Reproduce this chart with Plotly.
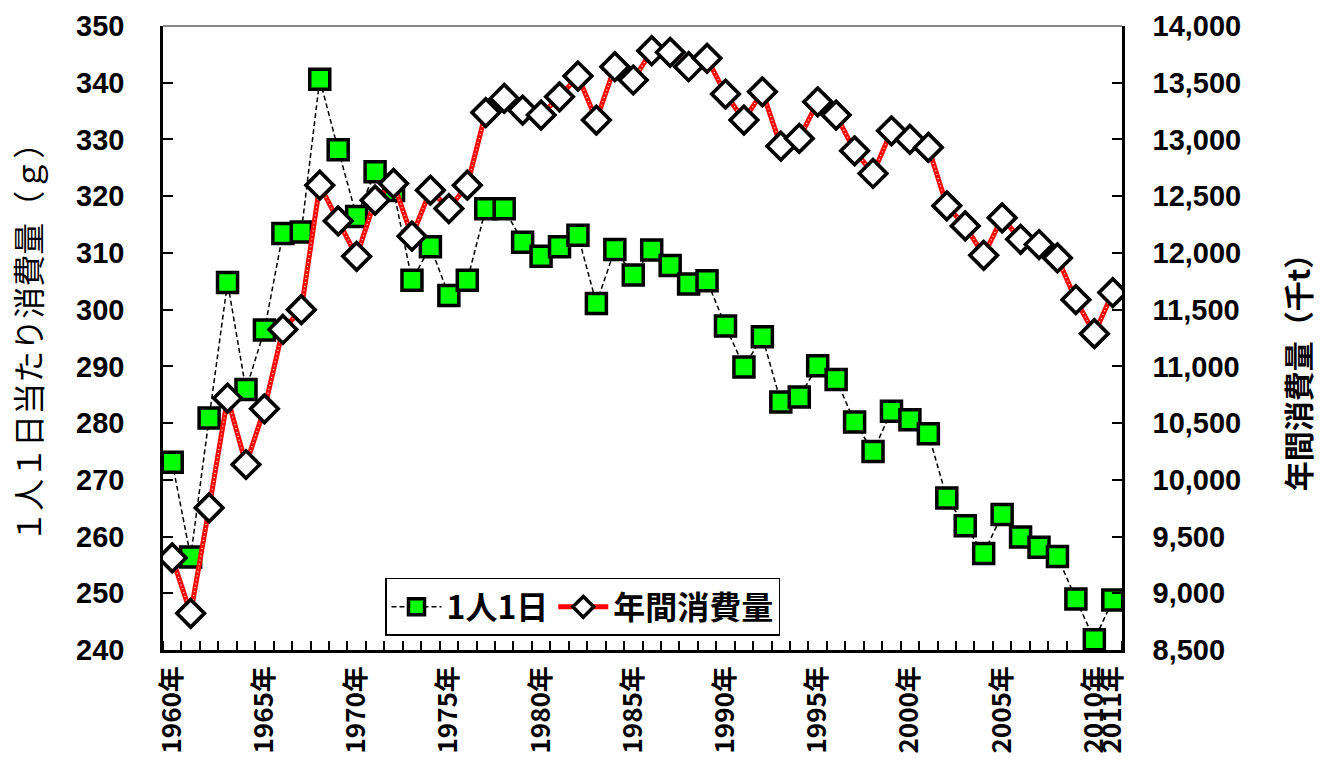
import plotly.graph_objects as go

# 年次データ (1960-2011)
years = list(range(1960, 2012))

# 1人1日当たり消費量 (g)
per_day_g = [
    273.1, 256.4, 280.9, 304.8, 285.9, 296.4, 313.4, 313.7, 340.6, 328.2,
    316.4, 324.3, 321.0, 305.2, 311.1, 302.5, 305.2, 317.8, 317.8, 311.9,
    309.4, 311.1, 313.1, 301.1, 310.6, 306.1, 310.5, 307.8, 304.5, 305.1,
    297.1, 289.9, 295.2, 283.7, 284.6, 290.1, 287.7, 280.2, 275.0, 282.1,
    280.6, 278.1, 266.8, 261.9, 257.0, 263.9, 259.9, 258.1, 256.5, 249.0,
    241.8, 248.8,
]

# 年間消費量 (千t)
annual_kt = [
    9312, 8823, 9753, 10720, 10135, 10626, 11325, 11500, 12597, 12282,
    11970, 12465, 12612, 12147, 12553, 12391, 12597, 13237, 13362, 13259,
    13215, 13376, 13559, 13171, 13641, 13524, 13782, 13768, 13641, 13715,
    13400, 13171, 13420, 12941, 13009, 13332, 13215, 12900, 12700, 13076,
    13000, 12930, 12415, 12238, 11979, 12309, 12120, 12074, 11956, 11588,
    11288, 11650,
]

label_years = [1960, 1965, 1970, 1975, 1980, 1985, 1990, 1995, 2000, 2005, 2010, 2011]
label_text = [f"{y}年" for y in label_years]

FONT = "Liberation Sans, Arial, Noto Sans CJK JP, sans-serif"
CJK = "Noto Sans CJK JP, Liberation Sans, sans-serif"

fig = go.Figure()

# 1人1日: green squares joined by a thin black dashed line
fig.add_trace(go.Scatter(
    x=years, y=per_day_g, name="1人1日", mode="lines+markers",
    line=dict(color="black", width=1.5, dash="5px,3px"),
    marker=dict(symbol="square", size=20, color="#00ff00",
                line=dict(color="black", width=3.5)),
    yaxis="y",
))

# 年間消費量: thick red line with white dots, white diamonds on top
fig.add_trace(go.Scatter(
    x=years, y=annual_kt, name="年間消費量", mode="lines+markers",
    line=dict(color="#ff0000", width=5),
    marker=dict(symbol="diamond", size=21, color="white",
                line=dict(color="black", width=3.5)),
    yaxis="y2",
))
fig.add_trace(go.Scatter(
    x=years, y=annual_kt, mode="lines", showlegend=False, hoverinfo="skip",
    line=dict(color="#ffd0d0", width=1.5, dash="1px,3px"),
    yaxis="y2",
))
fig.add_trace(go.Scatter(
    x=years, y=annual_kt, mode="markers", showlegend=False,
    marker=dict(symbol="diamond", size=21, color="white",
                line=dict(color="black", width=3.5)),
    yaxis="y2",
))

tick_font = dict(family=FONT, size=29, color="black", weight="bold")

fig.update_layout(
    width=1320, height=762,
    margin=dict(l=163, r=198, t=26, b=112, autoexpand=False),
    paper_bgcolor="white", plot_bgcolor="white",
    showlegend=True,
    legend=dict(
        x=0.2315, y=0.1154, xanchor="left", yanchor="top",
        orientation="h", bgcolor="white",
        bordercolor="black", borderwidth=1.5,
        font=dict(family=CJK, size=32, color="black", weight="bold"),
        itemwidth=50, tracegroupgap=0,
    ),
    xaxis=dict(
        range=[1959.5, 2011.5], automargin=False,
        tickmode="array", tickvals=label_years, ticktext=label_text,
        tickangle=-90, ticks="", tickfont=dict(family=CJK, size=26, color="black", weight="bold"),
        ticklabelstandoff=3,
        showgrid=False, zeroline=False,
        showline=True, linecolor="black", linewidth=2.5,
        minor=dict(tickmode="linear", tick0=1959.5, dtick=1, ticks="inside",
                   ticklen=9, tickwidth=1.5, tickcolor="black", showgrid=False),
    ),
    yaxis=dict(
        range=[240, 350], dtick=10, tick0=240, automargin=False,
        ticks="inside", ticklen=10, tickwidth=2, tickcolor="black",
        tickfont=tick_font, ticklabelstandoff=30,
        showgrid=False, zeroline=False,
        showline=True, linecolor="black", linewidth=2.5,
    ),
    yaxis2=dict(
        range=[8500, 14000], dtick=500, tick0=8500, tickformat=",", automargin=False,
        overlaying="y", side="right",
        ticks="inside", ticklen=10, tickwidth=2, tickcolor="black",
        tickfont=tick_font, ticklabelstandoff=22,
        showgrid=False, zeroline=False,
        showline=True, linecolor="black", linewidth=2.5,
    ),
    shapes=[dict(type="line", xref="paper", yref="paper", x0=0, x1=1, y0=1, y1=1,
                 line=dict(color="#888888", width=2))],
    annotations=[
        dict(text="１人１日当たり消費量（ｇ）", textangle=-90, showarrow=False,
             xref="paper", yref="paper", x=-0.142, y=0.505,
             xanchor="center", yanchor="middle",
             font=dict(family=CJK, size=32, color="black")),
        dict(text="年間消費量（千t）", textangle=-90, showarrow=False,
             xref="paper", yref="paper", x=1.182, y=0.457,
             xanchor="center", yanchor="middle",
             font=dict(family=CJK, size=30, color="black", weight="bold")),
    ],
)

fig.write_html("out.html")
